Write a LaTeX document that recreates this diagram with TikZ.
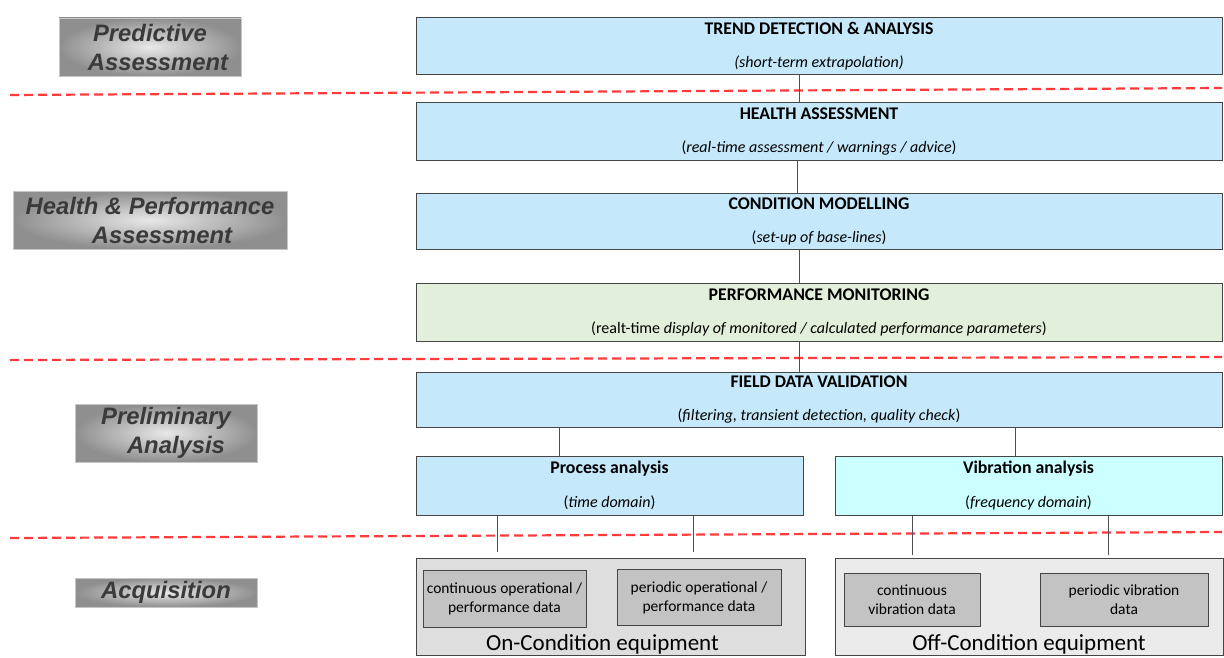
\documentclass[tikz,border=0pt]{standalone}
\usepackage{fontspec}
\setmainfont{Carlito}
\newfontfamily\lblfont{Liberation Sans}
\usetikzlibrary{calc}
\definecolor{boxblue}{HTML}{C5E9FB}
\definecolor{boxgreen}{HTML}{E2EFDA}
\definecolor{boxcyan}{HTML}{CCFFFF}
\definecolor{oncol}{HTML}{DEDEDE}
\definecolor{offcol}{HTML}{EBEBEB}
\definecolor{innercol}{HTML}{C3C3C3}
\definecolor{bordercol}{HTML}{454545}
\definecolor{linecol}{HTML}{505050}
\definecolor{redline}{HTML}{FF3B3B}
\definecolor{lbltext}{HTML}{3A3A3A}
\newcommand{\ttl}[1]{{\fontsize{17.8}{19}\selectfont\bfseries #1}}
\begin{document}
\begin{tikzpicture}[x=1pt,y=-1pt,
  mainbox/.style={draw=bordercol, line width=1pt, fill=boxblue, minimum width=806, inner sep=0pt, align=center, font=\fontsize{16}{19}\selectfont},
  halfbox/.style={mainbox, minimum width=387, minimum height=59},
  outerbox/.style={draw=bordercol, line width=1pt, minimum height=97, inner sep=0pt},
  innerbox/.style={draw=bordercol, line width=1pt, fill=innercol, inner sep=0pt, align=center, font=\fontsize{15.5}{19}\selectfont},
  eqtext/.style={inner sep=0pt, anchor=base, font=\fontsize{23}{26}\selectfont},
  lblbox/.style={shading=radial, inner color=gray!18, outer color=gray!88, draw=gray!45, line width=0.6pt, inner sep=0pt, align=center, text=lbltext, font=\lblfont\bfseries\itshape\fontsize{23.8}{29}\selectfont},
  conn/.style={draw=linecol, line width=1pt},
  sep/.style={draw=redline, line width=2.2pt, dash pattern=on 9pt off 5pt}
]
\useasboundingbox (0,0) rectangle (1224,658);

% separators
\draw[sep] (10,95) -- (1222,88);
\draw[sep] (10,360) -- (1222,357);
\draw[sep] (10,538) -- (1222,532);

% left labels
\node[lblbox, minimum width=182, minimum height=58] (lpred) at (150,47) {Predictive\\\hspace*{16pt}Assessment};
\node[lblbox, minimum width=274, minimum height=58] (lhealth) at (150,220) {Health \& Performance\\\hspace*{24pt}Assessment};
\node[lblbox, minimum width=182, minimum height=58] (lprelim) at (166,433) {Preliminary\\\hspace*{20pt}Analysis};
\node[lblbox, minimum width=182, minimum height=29] (lacq) at (166,592.5) {Acquisition};

% main column
\node[mainbox, minimum height=57] (trend) at (819,46.5) {\ttl{TREND DETECTION \& ANALYSIS}\\[14pt]\textit{(short-term extrapolation)}};
\node[mainbox, minimum height=58] (health) at (819,132) {\ttl{HEALTH ASSESSMENT}\\[14pt](\textit{real-time assessment / warnings / advice})};
\node[mainbox, minimum height=56] (cond) at (819,221) {\ttl{CONDITION MODELLING}\\[14pt](\textit{set-up of base-lines})};
\node[mainbox, fill=boxgreen, minimum height=58] (perf) at (819,312) {\ttl{PERFORMANCE MONITORING}\\[14pt](realt-time \textit{display of monitored / calculated performance parameters})};
\node[mainbox, minimum height=55] (field) at (819,399.5) {\ttl{FIELD DATA VALIDATION}\\[14pt](\textit{filtering, transient detection, quality check})};
\node[halfbox] (proc) at (609.5,485.5) {\ttl{Process analysis}\\[15pt](\textit{time domain})};
\node[halfbox, fill=boxcyan] (vib) at (1028.5,485.5) {\ttl{Vibration analysis}\\[15pt](\textit{frequency domain})};

% acquisition
\node[outerbox, fill=oncol, minimum width=389] (oncond) at (610.5,606.5) {};
\node[outerbox, fill=offcol, minimum width=388] (offcond) at (1029,606.5) {};
\node[eqtext] (ontext) at ([xshift=-8pt,yshift=5pt]oncond.south) {On-Condition equipment};
\node[eqtext] (offtext) at ([yshift=5pt]offcond.south) {Off-Condition equipment};
\node[innerbox, minimum width=163, minimum height=57] (cop) at (504.5,598.5) {continuous operational /\\performance data};
\node[innerbox, minimum width=164, minimum height=56] (pop) at (699,597.5) {periodic operational /\\performance data};
\node[innerbox, minimum width=136, minimum height=53] (cvib) at (912,599.5) {continuous\\vibration data};
\node[innerbox, minimum width=168, minimum height=53] (pvib) at (1124,599.5) {periodic vibration\\data};

% connector points
\coordinate (c1) at ([xshift=-20]trend.south);
\coordinate (c2) at ([xshift=-22]health.south);
\coordinate (c3) at ([xshift=-20]cond.south);
\coordinate (c4) at ([xshift=-20]perf.south);
\coordinate (fp) at ([xshift=144]field.south west);
\coordinate (fv) at ([xshift=-207]field.south east);
\coordinate (e1) at ([xshift=-7.5pt,yshift=6pt]oncond.north -| cop.north);
\coordinate (e2) at ([xshift=-6pt,yshift=6pt]oncond.north -| pop.north);
\coordinate (e3) at ([yshift=3pt]offcond.north -| cvib.north);
\coordinate (e4) at ([xshift=-16pt,yshift=3pt]offcond.north -| pvib.north);

% connectors
\draw[conn] (c1) -- (c1 |- health.north);
\draw[conn] (c2) -- (c2 |- cond.north);
\draw[conn] (c3) -- (c3 |- perf.north);
\draw[conn] (c4) -- (c4 |- field.north);
\draw[conn] (fp) -- (fp |- proc.north);
\draw[conn] (fv) -- (fv |- vib.north);
\draw[conn] (proc.south -| e1) -- (e1);
\draw[conn] (proc.south -| e2) -- (e2);
\draw[conn] (vib.south -| e3) -- (e3);
\draw[conn] (vib.south -| e4) -- (e4);
\end{tikzpicture}
\end{document}
